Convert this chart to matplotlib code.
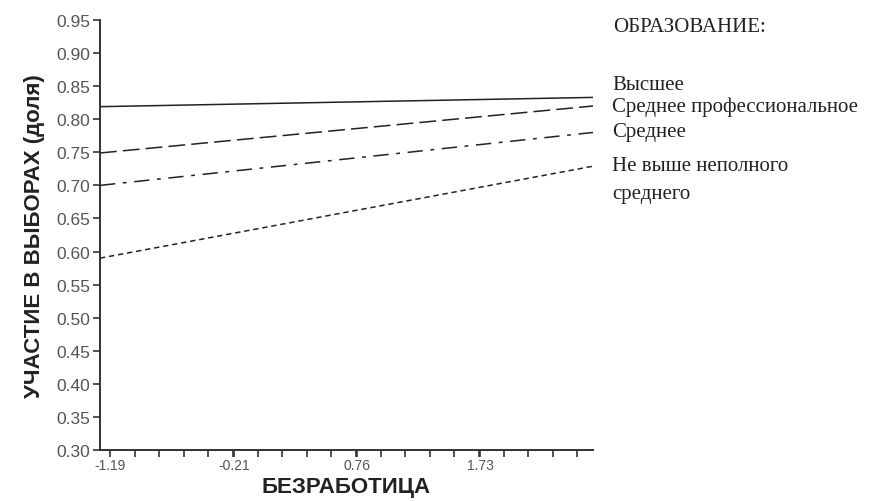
import matplotlib.pyplot as plt
import numpy as np

###   DONNEES   ###

# bornes de l'axe "БЕЗРАБОТИЦА" (les droites vont d'un bord a l'autre)
x_bornes = [-1.27, 2.62]
# valeurs (debut, fin)
vysshee = [0.819, 0.833]
sred_prof = [0.749, 0.820]
srednee = [0.700, 0.780]
ne_vyshe = [0.590, 0.729]

x_ticks = [-1.19, -0.21, 0.76, 1.73]
x_tick_labels = ["-1.19", "-0.21", "0.76", "1.73"]
y_ticks = [0.30, 0.35, 0.40, 0.45, 0.50, 0.55, 0.60, 0.65, 0.70, 0.75, 0.80, 0.85, 0.90, 0.95]

legende = ["Высшее", "Среднее профессиональное", "Среднее", "Не выше неполного", "среднего"]
titre_legende = "ОБРАЗОВАНИЕ:"

###   FIGURE   ###

fig = plt.figure(figsize=(8.86, 5.02), dpi=100)
ax = fig.add_axes([100/886, 1-451/502, 493/886, 430/502])

c = "#222222"
ax.plot(x_bornes, vysshee, color=c, lw=1.1, ls="-")
ax.plot(x_bornes, sred_prof, color=c, lw=1.1, ls=(0, (11, 4)))
ax.plot(x_bornes, srednee, color=c, lw=1.1, ls=(0, (10, 5, 2.5, 5)))
ax.plot(x_bornes, ne_vyshe, color=c, lw=1.1, ls=(0, (3.5, 2.5)))

ax.set_xlim(x_bornes)
ax.set_ylim(0.30, 0.95)

# axes
for s in ["top", "right"]:
    ax.spines[s].set_visible(False)
for s in ["left", "bottom"]:
    ax.spines[s].set_color("#333333")
    ax.spines[s].set_linewidth(1.4)

ax.set_yticks(y_ticks)
ax.set_yticklabels(["%.2f" % v for v in y_ticks], fontsize=12.5, color="#555555",
                   family="Liberation Sans")
ax.set_xticks(x_ticks)
ax.set_xticklabels(x_tick_labels, fontsize=10, color="#555555", family="Liberation Sans")
ax.set_xticks(np.arange(-1.19 + 0.194, 2.55, 0.194), minor=True)
ax.tick_params(axis="y", length=5, width=1.2, color="#333333", pad=2)
ax.tick_params(axis="x", which="both", length=5, width=1.2, color="#333333", pad=1)

ax.set_xlabel("БЕЗРАБОТИЦА", fontsize=16, fontweight="bold", color="#222222",
              family="Liberation Sans", labelpad=3)
ax.set_ylabel("УЧАСТИЕ В ВЫБОРАХ (доля)", fontsize=16, fontweight="bold", color="#222222",
              family="Liberation Sans", labelpad=8)

# legende a droite
fig.text(613/886, 1-28/502, titre_legende, fontsize=15, family="Liberation Serif",
         color="#222222", va="center")
pos_y = [86, 107, 133, 167, 194]
for txt, py in zip(legende, pos_y):
    fig.text(612/886, 1-py/502, txt, fontsize=15, family="Liberation Serif",
             color="#222222", va="center")

fig.savefig("out.png", dpi=100)
